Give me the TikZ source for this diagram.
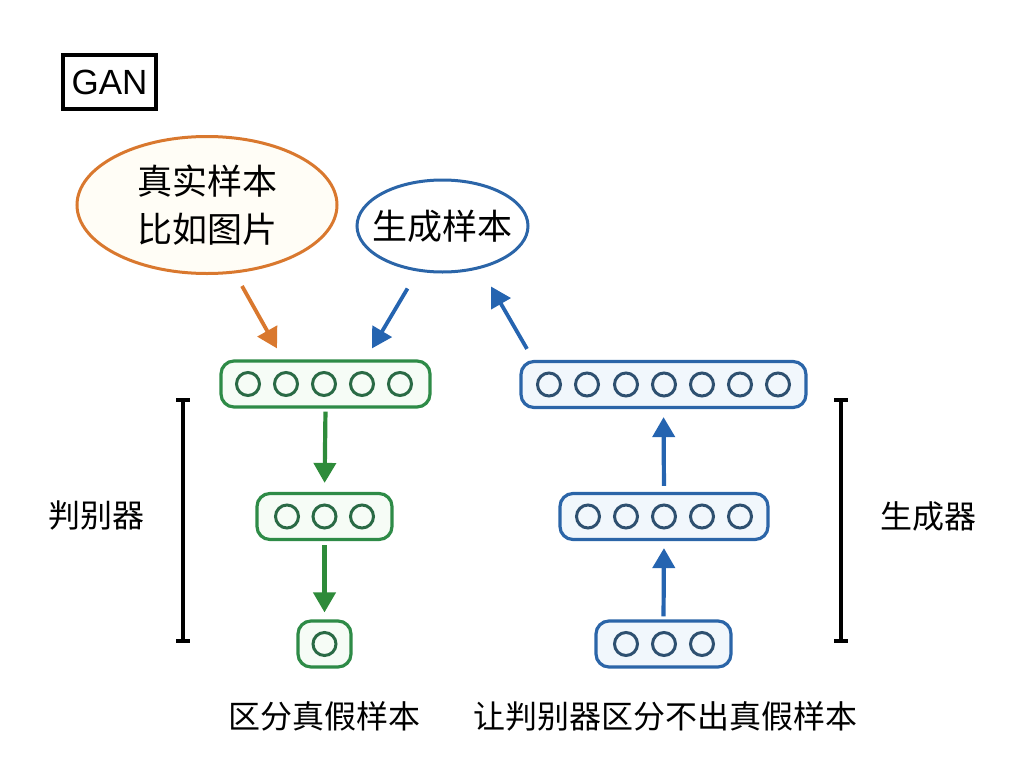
\documentclass[tikz,border=0pt]{standalone}
\usepackage{fontspec}
\newfontfamily\cjk{Noto Sans CJK SC}
\newfontfamily\latinsans{Liberation Sans}
\usetikzlibrary{arrows.meta,shapes.geometric,calc}
\definecolor{orangeC}{HTML}{D9782E}
\definecolor{orangeF}{HTML}{FFFDF6}
\definecolor{greenB}{HTML}{2E8B47}
\definecolor{greenC}{HTML}{2A6A45}
\definecolor{greenF}{HTML}{F6FCF6}
\definecolor{greenA}{HTML}{2E8B3A}
\definecolor{blueB}{HTML}{2B65A8}
\definecolor{blueC}{HTML}{2E5070}
\definecolor{blueF}{HTML}{F1F7FC}
\definecolor{blueA}{HTML}{2564B0}
\tikzset{
  layerbox/.style={draw, rounded corners=13pt, line width=3.2pt, minimum height=46pt, inner sep=0pt},
  glayer/.style={layerbox, draw=greenB, fill=greenF},
  blayer/.style={layerbox, draw=blueB, fill=blueF},
  unit/.style={circle, draw, line width=3pt, minimum size=23pt, inner sep=0pt},
  gunit/.style={unit, draw=greenC},
  bunit/.style={unit, draw=blueC},
  flow/.style={line width=4.2pt, -{Triangle[width=22pt,length=20pt]}},
  lbl/.style={font=\cjk\fontsize{32}{38}\selectfont, inner sep=0pt},
  bubble/.style={ellipse, line width=3pt, inner sep=0pt},
  bubbletext/.style={align=center, inner sep=0pt, font=\cjk\fontsize{35}{48}\selectfont},
  bracket/.style={line width=4pt}
}
\begin{document}
\begin{tikzpicture}[x=1pt,y=-1pt]
\useasboundingbox (0,0) rectangle (1024,768);
% GAN label
\node[draw, line width=3.5pt, minimum width=93pt, minimum height=54pt, inner sep=0pt, font=\latinsans\fontsize{35}{40}\selectfont] (gan) at (109.5,82) {GAN};
% bubbles
\node[bubble, draw=orangeC, fill=orangeF, minimum width=260pt, minimum height=137pt] (real) at (207,205) {};
\node[bubbletext] (realtext) at (real.center) {真实样本\\比如图片};
\node[bubble, draw=blueB, fill=white, minimum width=171pt, minimum height=92pt] (fake) at (442.5,226) {};
\node[bubbletext] (faketext) at (fake.center) {生成样本};
% discriminator layers
\node[glayer, minimum width=209pt] (g1) at (325.5,384) {};
\node[glayer, minimum width=135pt] (g2) at (324.5,516.5) {};
\node[glayer, minimum width=53pt] (g3) at (324.5,644) {};
\foreach \i/\x in {1/248,2/286,3/324,4/362,5/400} \node[gunit] (g1u\i) at (\x,384) {};
\foreach \i/\x in {1/287,2/324.5,3/362} \node[gunit] (g2u\i) at (\x,516.5) {};
\node[gunit] (g3u1) at (324.5,644) {};
% generator layers
\node[blayer, minimum width=285pt] (b1) at (663.5,384.5) {};
\node[blayer, minimum width=208pt] (b2) at (664,516.5) {};
\node[blayer, minimum width=135pt] (b3) at (663.5,644) {};
\foreach \i/\x in {1/549,2/587,3/626,4/664,5/702,6/740,7/778} \node[bunit] (b1u\i) at (\x,384.5) {};
\foreach \i/\x in {1/588,2/626,3/664,4/702,5/740} \node[bunit] (b2u\i) at (\x,516.5) {};
\foreach \i/\x in {1/626,2/664,3/702} \node[bunit] (b3u\i) at (\x,644) {};
% vertical flows
\draw[flow, draw=greenA, fill=greenA, shorten <=3pt, shorten >=9pt] (g1.south) -- (g2.north);
\draw[flow, draw=greenA, fill=greenA, shorten <=4pt, shorten >=7pt] (g2.south) -- (g3.north);
\draw[flow, draw=blueA, fill=blueA, shorten <=3pt, shorten >=7pt] (b3.north) -- (b2.south);
\draw[flow, draw=blueA, fill=blueA, shorten <=6pt, shorten >=8pt] (b2.north) -- (b1.south);
% diagonal flows
\coordinate (a1s) at ([shift={(35,11)}]real.south);
\coordinate (a1e) at ([shift={(-48.5,-11)}]g1.north);
\coordinate (a2s) at ([shift={(-35,15)}]fake.south);
\coordinate (a2e) at ([shift={(46.5,-11)}]g1.north);
\coordinate (a3s) at ([shift={(-136.5,-11)}]b1.north);
\coordinate (a3e) at ([shift={(48.5,13)}]fake.south);
\draw[flow, draw=orangeC, fill=orangeC, line width=3.8pt] (a1s) -- (a1e);
\draw[flow, draw=blueA, fill=blueA, line width=3.8pt] (a2s) -- (a2e);
\draw[flow, draw=blueA, fill=blueA, line width=3.8pt] (a3s) -- (a3e);
% brackets
\coordinate (lbt) at (183,400);
\coordinate (lbb) at (183,641);
\coordinate (rbt) at (841,400);
\coordinate (rbb) at (841,641);
\draw[bracket] (lbt) -- (lbb);
\draw[bracket] ([xshift=-7pt]lbt) -- ([xshift=7pt]lbt);
\draw[bracket] ([xshift=-7pt]lbb) -- ([xshift=7pt]lbb);
\draw[bracket] (rbt) -- (rbb);
\draw[bracket] ([xshift=-7pt]rbt) -- ([xshift=7pt]rbt);
\draw[bracket] ([xshift=-7pt]rbb) -- ([xshift=7pt]rbb);
% labels
\node[lbl] (dlab) at (96,516) {判别器};
\node[lbl] (glab) at (928,516) {生成器};
\node[lbl] (dcap) at (324.5,716) {区分真假样本};
\node[lbl] (gcap) at (665,716) {让判别器区分不出真假样本};
\end{tikzpicture}
\end{document}
